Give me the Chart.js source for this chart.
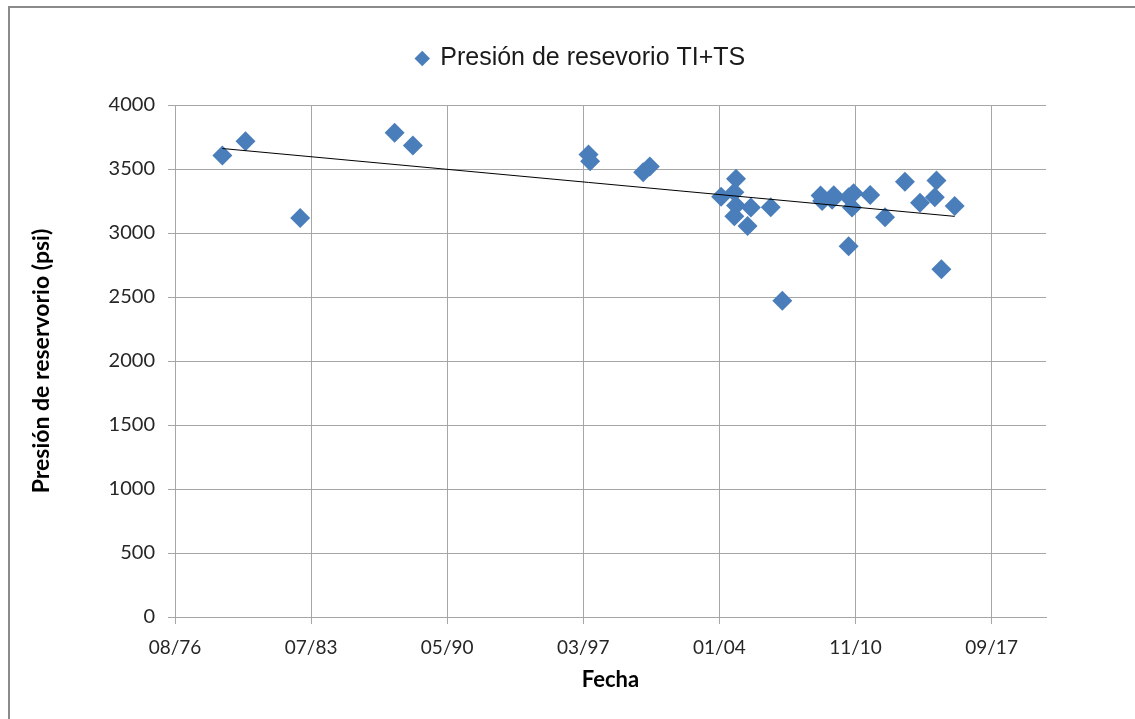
<!DOCTYPE html>
<html>
<head>
<meta charset="utf-8">
<script src="https://cdn.jsdelivr.net/npm/chart.js@4"></script>
<style>
  html, body { margin: 0; padding: 0; background: #ffffff; }
  #wrap { width: 1135px; height: 719px; }
</style>
</head>
<body>
<div id="wrap"><canvas id="myChart"></canvas></div>
<script>
// fechas de medicion (año-mes) y presion
const fechas = [
    '1979-01', '1980-03', '1982-12', '1987-09', '1988-08',
    '1997-06', '1997-07', '2000-03', '2000-07',
    '2004-02', '2004-10', '2004-11', '2004-11', '2004-10',
    '2005-08', '2005-06', '2006-08', '2007-03',
    '2009-02', '2009-03', '2009-10', '2009-09',
    '2010-07', '2010-10', '2010-09', '2010-07',
    '2011-08', '2012-05', '2013-05', '2014-02',
    '2014-12', '2014-11', '2015-03', '2015-11'
];
const presiones = [
    3605, 3716, 3117, 3784, 3683,
    3613, 3561, 3475, 3519,
    3283, 3318, 3424, 3215, 3130,
    3200, 3055, 3202, 2470,
    3293, 3250, 3295, 3260,
    3280, 3310, 3200, 2896,
    3297, 3124, 3400, 3237,
    3410, 3280, 2717, 3210
];

// linea de tendencia (extremos)
const tendenciaFechas = ['1979-01', '2015-11'];
const tendenciaValores = [3660, 3130];

// eje X en dias tipo Excel
const ejeXMin = 28000;
const ejeXMax = 44000;
const ejeXPaso = 2500;

function toSerial(s) {
    const p = s.split('-');
    return Date.UTC(+p[0], +p[1] - 1, 15) / 86400000 + 25569;
}

function serialToLabel(v) {
    const d = new Date((v - 25569) * 86400000);
    const mm = String(d.getUTCMonth() + 1).padStart(2, '0');
    const yy = String(d.getUTCFullYear() % 100).padStart(2, '0');
    return mm + '/' + yy;
}

const puntos = fechas.map(function(f, i) {
    return { x: toSerial(f), y: presiones[i] };
});
const tendencia = tendenciaFechas.map(function(f, i) {
    return { x: toSerial(f), y: tendenciaValores[i] };
});

const gridColor = '#a6a6a6';
const textColor = '#262626';

const bordePlugin = {
    id: 'borde',
    beforeInit(chart) {
        const origFit = chart.legend.fit;
        chart.legend.fit = function() {
            origFit.bind(chart.legend)();
            this.height += 24;
        };
    },
    afterLayout(chart) {
        chart.legend.left += 46;
        chart.legend.right += 46;
    },
    afterDraw(chart) {
        const c = chart.ctx;
        c.save();
        c.strokeStyle = '#8a8a8a';
        c.lineWidth = 2;
        c.strokeRect(9, 7, 1300, 900);
        c.restore();
    }
};

const ctx = document.getElementById('myChart').getContext('2d');
const config = {
    type: 'scatter',
    data: {
        datasets: [{
            label: 'Presión de resevorio TI+TS',
            data: puntos,
            pointStyle: 'rectRot',
            pointRadius: 10,
            pointHoverRadius: 10,
            backgroundColor: '#4a7ebb',
            borderColor: '#4a7ebb',
            borderWidth: 0,
            order: 1
        }, {
            label: 'Tendencia',
            type: 'line',
            data: tendencia,
            borderColor: '#000000',
            borderWidth: 1,
            pointRadius: 0,
            fill: false,
            order: 0
        }]
    },
    options: {
        responsive: true,
        maintainAspectRatio: false,
        animation: false,
        layout: {
            padding: { top: 36, left: 24, right: 89, bottom: 22 }
        },
        plugins: {
            tooltip: { enabled: false },
            legend: {
                display: true,
                position: 'top',
                labels: {
                    usePointStyle: true,
                    boxWidth: 11,
                    boxHeight: 11,
                    padding: 10,
                    color: '#1a1a1a',
                    font: { family: 'Liberation Sans, Arial', size: 25 },
                    filter: function(item) { return item.datasetIndex === 0; }
                }
            }
        },
        scales: {
            x: {
                type: 'linear',
                min: ejeXMin,
                max: ejeXMax,
                afterBuildTicks: function(scale) {
                    const t = [];
                    for (let v = ejeXMin; v < ejeXMax; v += ejeXPaso) t.push({ value: v });
                    scale.ticks = t;
                },
                afterFit: function(scale) { scale.height = 80; },
                grid: { color: gridColor, tickLength: 7, tickColor: gridColor },
                border: { color: gridColor },
                ticks: {
                    padding: 12,
                    color: textColor,
                    maxRotation: 0,
                    font: { family: 'Lato', size: 19 },
                    callback: function(v) { return serialToLabel(v); }
                },
                title: {
                    display: true,
                    text: 'Fecha',
                    color: '#000000',
                    padding: { top: 4, bottom: 4 },
                    font: { family: 'Lato', size: 22, weight: 'bold' }
                }
            },
            y: {
                min: 0,
                max: 4000,
                afterFit: function(scale) { scale.width = 151; },
                grid: { color: gridColor, tickLength: 7, tickColor: gridColor },
                border: { color: gridColor },
                ticks: {
                    stepSize: 500,
                    padding: 13,
                    color: textColor,
                    font: { family: 'Lato', size: 20 },
                    callback: function(v) { return String(v); }
                },
                title: {
                    display: true,
                    text: 'Presión de reservorio (psi)',
                    color: '#000000',
                    padding: { top: 4, bottom: 4 },
                    font: { family: 'Lato', size: 23, weight: 'bold' }
                }
            }
        }
    },
    plugins: [bordePlugin]
};
const myChart = new Chart(ctx, config);
</script>
</body>
</html>
